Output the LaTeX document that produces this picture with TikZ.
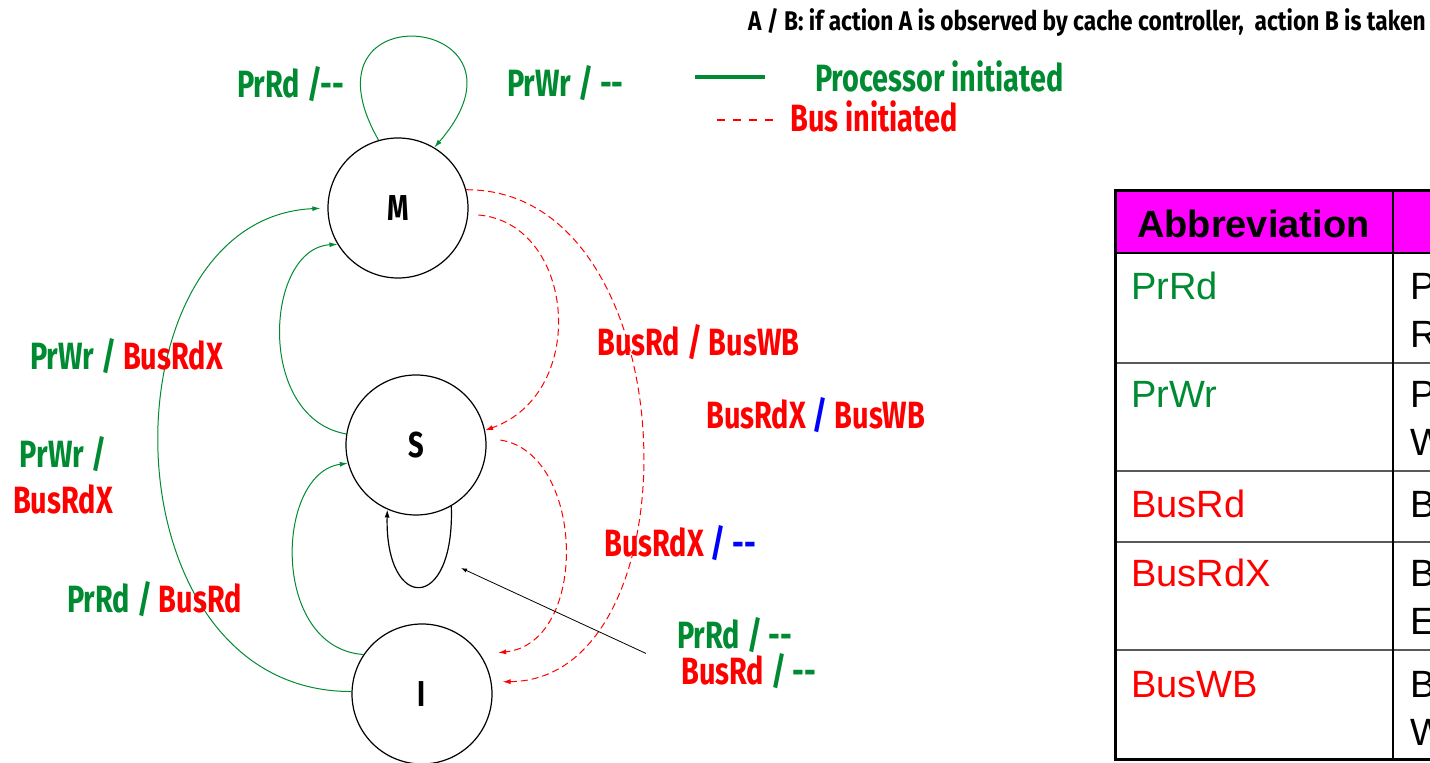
\documentclass[tikz,border=0pt]{standalone}
\usepackage{fontspec}
\setmainfont{Liberation Sans}
\newfontfamily\slidefont[FakeStretch=0.76]{Fira Sans}
\newfontfamily\notefont[FakeStretch=0.84]{Fira Sans}
\usetikzlibrary{arrows.meta}

\definecolor{procgreen}{RGB}{0,138,50}
\definecolor{busred}{RGB}{255,0,0}
\definecolor{hdrmagenta}{RGB}{255,0,255}

\begin{document}
\begin{tikzpicture}[
		x=1pt, y=1pt,
		>={Latex[length=8pt,width=5pt]},
		state/.style={circle, draw, line width=1.2pt, minimum size=140pt, inner sep=0pt,
			font=\slidefont\bfseries\fontsize{36}{40}\selectfont},
		lbl/.style={anchor=base west, inner sep=0pt, font=\slidefont\bfseries\fontsize{38}{46}\selectfont},
		proc/.style={->, procgreen, line width=1pt},
		bus/.style={->, busred, line width=1pt, dash pattern=on 7pt off 4pt},
		cell/.style={anchor=base west, inner sep=0pt, font=\fontsize{38}{44}\selectfont}
	]
		\useasboundingbox (0,0) rectangle (1430,763);
		\clip (0,0) rectangle (1430,763);

		% states
		\node[state] (M) at (398,555) {M};
		\node[state] (S) at (416,318) {S};
		\node[state] (I) at (422,69) {I};

		% processor side transitions
		\draw[proc] (M.106) .. controls (292,775) and (549,748) .. (M.59);
		\draw[proc, shorten >=7pt] (I.178) .. controls (100,71) and (100,545) .. (M.west);
		\draw[proc] (S.171) .. controls (255,345) and (265,515) .. (M.211);
		\draw[proc] (I.146) .. controls (270,115) and (275,290) .. (S.195);
		\draw[->, line width=1.2pt] (S.300) .. controls (455,150) and (385,150) .. (S.246);

		% bus side transitions
		\draw[bus, shorten <=10pt] (M.355) .. controls (575,540) and (590,370) .. (S.12);
		\draw[bus] (M.15) .. controls (690,574) and (700,83) .. ([xshift=11pt]I.10);
		\draw[bus] ([xshift=14pt]S.4) .. controls (585,310) and (590,120) .. ([shift={(15pt,6pt)}]I.30);

		% transition labels
		\node[lbl, procgreen] (prdM) at (237,665) {PrRd /-{}-};
		\node[lbl, procgreen] (pwrM) at (507,666) {PrWr / -{}-};
		\node[lbl] (pwrS) at (30,393) {\textcolor{procgreen}{PrWr /} \textcolor{busred}{BusRdX}};
		\node[lbl, align=center, anchor=center] (pwrI) at (63,288)
			{\textcolor{procgreen}{PrWr /}\\\textcolor{busred}{BusRdX}};
		\node[lbl] (prdI) at (67,150) {\textcolor{procgreen}{PrRd /} \textcolor{busred}{BusRd}};
		\node[lbl, busred] (brdM) at (597,407) {BusRd / BusWB};
		\node[lbl, busred] (brxM) at (706,334) {BusRdX \textcolor{blue}{/} BusWB};
		\node[lbl, busred] (brxS) at (604,206) {BusRdX \textcolor{blue}{/ -{}-}};
		\node[lbl, procgreen] (prdS) at (677,114) {PrRd / -{}-};
		\node[lbl] (brdS) at (681,78) {\textcolor{busred}{BusRd} \textcolor{procgreen}{/ -{}-}};
		\coordinate (loopnote) at (461,195);
		\draw[-{Latex[length=6pt,width=4pt]}, line width=0.8pt] ([xshift=-31pt]prdS.south west) -- (loopnote);

		% legend
		\node[anchor=base west, inner sep=0pt, font=\notefont\bfseries\fontsize{27}{30}\selectfont] (note) at (748,732)
			{A / B: if action A is observed by cache controller,\ \ action B is taken};
		\draw[procgreen, line width=3.5pt] (695,686) -- (765,686);
		\node[lbl, procgreen] (keyproc) at (815,671) {Processor initiated};
		\draw[busred, line width=2.5pt, dash pattern=on 8pt off 8pt] (717,643) -- (775,643);
		\node[lbl, busred] (keybus) at (790,631) {Bus initiated};

		% abbreviation table
		\fill[hdrmagenta] (1115,510) rectangle (1440,572);
		\foreach \y in {400,292,221,113} {
			\draw[line width=1.5pt, black!65] (1115,\y) -- (1440,\y);
		}
		\draw[line width=1.5pt] (1115,510) -- (1440,510);
		\draw[line width=1.5pt] (1393,572) -- (1393,3);
		\draw[line width=3pt] (1440,572) -- (1115,572) -- (1115,3) -- (1440,3);
		\node[cell, font=\bfseries\fontsize{38}{44}\selectfont] (hdr) at (1137,525) {Abbreviation};
		\foreach \abbr/\col/\base/\ta/\tb in {PrRd/procgreen/463/P/R, PrWr/procgreen/355/P/W,
				BusRd/busred/245/B/, BusRdX/busred/176/B/E, BusWB/busred/65/B/W} {
			\node[cell, text=\col] (a\abbr) at (1131,\base) {\abbr};
			\node[cell] (d\abbr) at (1410,\base) {\ta};
			\node[cell] (e\abbr) at (1410,\base-48) {\tb};
		}
	\end{tikzpicture}
\end{document}
